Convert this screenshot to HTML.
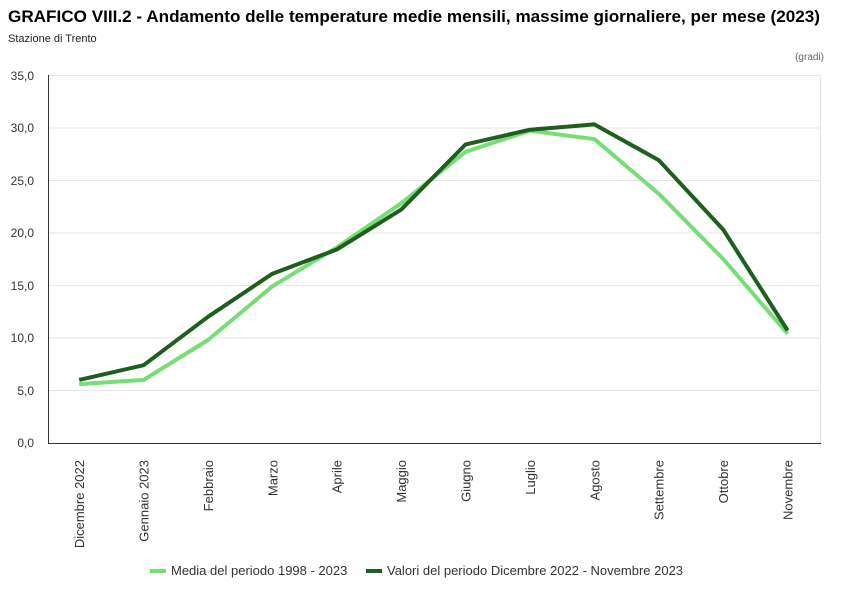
<!DOCTYPE html>
<html><head><meta charset="utf-8"><style>
body{margin:0;background:#fff;width:850px;height:600px;overflow:hidden;font-family:"Liberation Sans",sans-serif}
</style></head><body>
<svg width="850" height="600" xmlns="http://www.w3.org/2000/svg" font-family="Liberation Sans, sans-serif">
<text x="8" y="22" font-size="17" font-weight="bold" fill="#000" textLength="812" lengthAdjust="spacingAndGlyphs">GRAFICO VIII.2 - Andamento delle temperature medie mensili, massime giornaliere, per mese (2023)</text>
<text x="8" y="42" font-size="11" fill="#222">Stazione di Trento</text>
<text x="824" y="60" font-size="10" fill="#666" text-anchor="end">(gradi)</text>
<g stroke="#e6e6e6" stroke-width="1">
<line x1="48" x2="820" y1="75.5" y2="75.5"/><line x1="48" x2="820" y1="128" y2="128"/>
<line x1="48" x2="820" y1="180.5" y2="180.5"/><line x1="48" x2="820" y1="233" y2="233"/>
<line x1="48" x2="820" y1="285.5" y2="285.5"/><line x1="48" x2="820" y1="338" y2="338"/>
<line x1="48" x2="820" y1="390.5" y2="390.5"/>
<line x1="820.5" x2="820.5" y1="75" y2="443"/>
</g>
<line x1="48.5" x2="48.5" y1="75" y2="443" stroke="#333"/>
<line x1="48" x2="821" y1="443.5" y2="443.5" stroke="#333"/>
<g font-size="12" fill="#333" text-anchor="end">
<text x="34" y="80">35,0</text><text x="34" y="132">30,0</text><text x="34" y="185">25,0</text><text x="34" y="237">20,0</text><text x="34" y="290">15,0</text><text x="34" y="342">10,0</text><text x="34" y="395">5,0</text><text x="34" y="447">0,0</text>
</g>
<g font-size="13" fill="#333" text-anchor="end">
<text transform="translate(84,460) rotate(-90)">Dicembre 2022</text>
<text transform="translate(148.5,460) rotate(-90)">Gennaio 2023</text>
<text transform="translate(213,460) rotate(-90)">Febbraio</text>
<text transform="translate(277.5,460) rotate(-90)">Marzo</text>
<text transform="translate(341.5,460) rotate(-90)">Aprile</text>
<text transform="translate(406,460) rotate(-90)">Maggio</text>
<text transform="translate(470.5,460) rotate(-90)">Giugno</text>
<text transform="translate(535,460) rotate(-90)">Luglio</text>
<text transform="translate(599.5,460) rotate(-90)">Agosto</text>
<text transform="translate(663.5,460) rotate(-90)">Settembre</text>
<text transform="translate(728,460) rotate(-90)">Ottobre</text>
<text transform="translate(792.5,460) rotate(-90)">Novembre</text>
</g>
<polyline fill="none" stroke="#77dd77" stroke-width="4" stroke-linejoin="round" points="79.2,384.1 143.6,379.9 208,340 272.4,286.3 336.8,247.4 401.2,203.3 465.6,151.8 530,130.7 594.4,139.1 658.8,193.8 723.2,259 787.6,333.7"/>
<polyline fill="none" stroke="#1e5e1e" stroke-width="4" stroke-linejoin="round" points="79.2,379.9 143.6,365.2 208,316.8 272.4,273.7 336.8,249.5 401.2,209.6 465.6,144.4 530,129.7 594.4,124.4 658.8,160.2 723.2,229.6 787.6,330.5"/>
<line x1="150" x2="166" y1="571" y2="571" stroke="#77dd77" stroke-width="4"/>
<text x="171" y="575" font-size="13" fill="#333">Media del periodo 1998 - 2023</text>
<line x1="366" x2="382" y1="571" y2="571" stroke="#1e5e1e" stroke-width="4"/>
<text x="387" y="575" font-size="13" fill="#333">Valori del periodo Dicembre 2022 - Novembre 2023</text>
</svg>
</body></html>
